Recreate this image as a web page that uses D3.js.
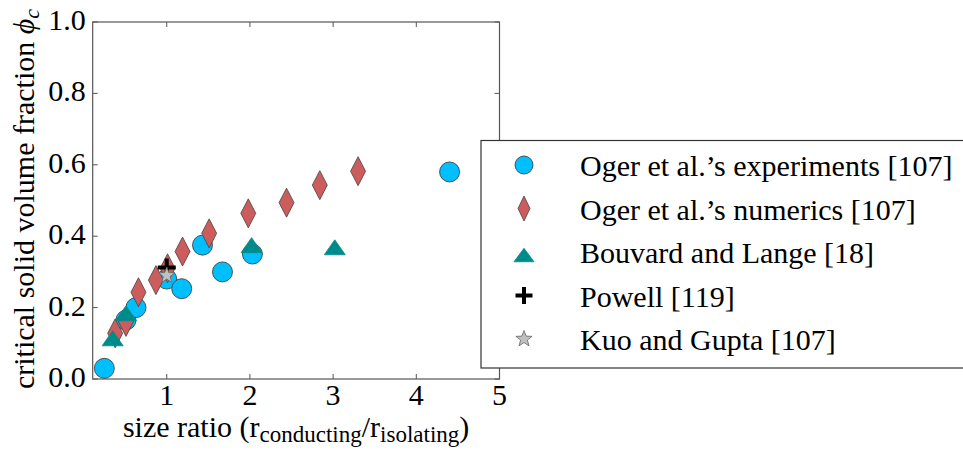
<!DOCTYPE html>
<html><head><meta charset="utf-8">
<script src="https://cdn.jsdelivr.net/npm/d3@7"></script>
<style>
body{margin:0;background:#fff;}
svg{display:block;font-family:"Liberation Serif","DejaVu Serif",serif;}
</style></head>
<body><svg id="chart" width="963" height="451"></svg>
<script>
// ---- data ----
const expX = [0.25, 0.51, 0.63, 1.00, 1.18, 1.43, 1.67, 2.03, 4.40];
const expY = [0.030, 0.165, 0.200, 0.280, 0.253, 0.375, 0.300, 0.350, 0.580];
const numX = [0.38, 0.51, 0.66, 0.87, 1.01, 1.19, 1.51, 1.98, 2.44, 2.84, 3.30];
const numY = [0.128, 0.160, 0.243, 0.277, 0.310, 0.357, 0.408, 0.464, 0.494, 0.543, 0.582];
const bouX = [0.35, 0.51, 2.02, 3.02];
const bouY = [0.114, 0.184, 0.375, 0.369];
const powX = [1.00];
const powY = [0.312];
const kuoX = [1.00];
const kuoY = [0.290];
const xTicks = [1, 2, 3, 4, 5];
const yTicks = [0.0, 0.2, 0.4, 0.6, 0.8, 1.0];
const legendLabels = ["Oger et al.\u2019s experiments [107]", "Oger et al.\u2019s numerics [107]",
  "Bouvard and Lange [18]", "Powell [119]", "Kuo and Gupta [107]"];

const svg = d3.select("#chart");
const L = 92.7, R = 499.5, T = 22, B = 379;
const x = d3.scaleLinear().domain([0.11, 5]).range([L, R]);
const y = d3.scaleLinear().domain([0, 1]).range([B, T]);

// frame
svg.append("rect").attr("x", L).attr("y", T).attr("width", R - L).attr("height", B - T)
  .attr("fill", "none").attr("stroke", "#555").attr("stroke-width", 1.2);

// ticks (inside, all four sides)
const tl = 5;
const g = svg.append("g").attr("stroke", "#555").attr("stroke-width", 1);
xTicks.forEach(t => {
  g.append("line").attr("x1", x(t)).attr("x2", x(t)).attr("y1", B).attr("y2", B - tl);
  g.append("line").attr("x1", x(t)).attr("x2", x(t)).attr("y1", T).attr("y2", T + tl);
});
yTicks.forEach(t => {
  g.append("line").attr("x1", L).attr("x2", L + tl).attr("y1", y(t)).attr("y2", y(t));
  g.append("line").attr("x1", R).attr("x2", R - tl).attr("y1", y(t)).attr("y2", y(t));
});
// tick labels
svg.append("g").selectAll("text").data(xTicks).join("text")
  .attr("x", d => x(d)).attr("y", B + 26).attr("text-anchor", "middle")
  .attr("font-size", 30).text(d => d3.format("d")(d));
svg.append("g").selectAll("text").data(yTicks).join("text")
  .attr("x", L - 7).attr("y", d => y(d) + 8).attr("text-anchor", "end")
  .attr("font-size", 30).text(d => d3.format(".1f")(d));

// axis labels
const xl = svg.append("text").attr("x", (L + R) / 2).attr("y", 437).attr("text-anchor", "middle").attr("font-size", 30);
xl.append("tspan").text("size ratio (r");
xl.append("tspan").attr("font-size", 23).attr("dy", 5).text("conducting");
xl.append("tspan").attr("dy", -5).text("/r");
xl.append("tspan").attr("font-size", 23).attr("dy", 5).text("isolating");
xl.append("tspan").attr("dy", -5).text(")");

const yl = svg.append("text").attr("transform", `translate(34,199) rotate(-90)`)
  .attr("text-anchor", "middle").attr("font-size", 30);
yl.append("tspan").text("critical solid volume fraction ");
yl.append("tspan").attr("font-style", "italic").text("\u03d5");
yl.append("tspan").attr("font-style", "italic").attr("font-size", 22).attr("dy", 5).text("c");

// marker shapes
function diamond(hw, hh) { return `M0,${-hh}L${hw},0L0,${hh}L${-hw},0Z`; }
function triangle(w, h) { return `M0,${-h / 2}L${w / 2},${h / 2}L${-w / 2},${h / 2}Z`; }
function plus(s) { return `M${-s},0L${s},0M0,${-s}L0,${s}`; }
function star(r) {
  const ri = r * 0.42; let p = "";
  for (let i = 0; i < 10; i++) {
    const a = -Math.PI / 2 + i * Math.PI / 5, rr = i % 2 ? ri : r;
    p += (i ? "L" : "M") + (rr * Math.cos(a)).toFixed(2) + "," + (rr * Math.sin(a)).toFixed(2);
  }
  return p + "Z";
}
const styles = [
  { path: d3.symbol(d3.symbolCircle, Math.PI * 100)(), lpath: d3.symbol(d3.symbolCircle, Math.PI * 81)(), fill: "#00bfff", stroke: "#333", sw: 0.8 },
  { path: diamond(7.5, 14.5), lpath: diamond(6, 12.5), fill: "#cd5c5c", stroke: "#444", sw: 0.8 },
  { path: triangle(21, 15), lpath: triangle(20, 13.5), fill: "#008b8b", stroke: "#008b8b", sw: 0.8 },
  { path: plus(9), lpath: plus(8.5), fill: "none", stroke: "#000", sw: 4 },
  { path: star(8.5), lpath: star(8.5), fill: "#c0c0c0", stroke: "#666", sw: 0.8 }
];
const series = [[expX, expY], [numX, numY], [bouX, bouY], [powX, powY], [kuoX, kuoY]];
series.forEach(([xs, ys], i) => {
  const st = styles[i];
  svg.append("g").selectAll("path").data(xs.map((v, k) => [v, ys[k]])).join("path")
    .attr("transform", d => `translate(${x(d[0])},${y(d[1])})`)
    .attr("d", st.path).attr("fill", st.fill).attr("stroke", st.stroke).attr("stroke-width", st.sw);
});

// legend
const lg = svg.append("g");
lg.append("rect").attr("x", 481).attr("y", 140.5).attr("width", 490).attr("height", 227.5)
  .attr("fill", "#fff").attr("stroke", "#333").attr("stroke-width", 1.2);
legendLabels.forEach((lab, i) => {
  const cy = 165 + i * 43.5;
  const st = styles[i];
  lg.append("path").attr("transform", `translate(524,${cy + (i === 2 ? 3 : 0)})`).attr("d", st.lpath)
    .attr("fill", st.fill).attr("stroke", st.stroke).attr("stroke-width", st.sw);
  lg.append("text").attr("x", 580).attr("y", cy + 11).attr("font-size", 30).text(lab);
});
</script></body></html>
